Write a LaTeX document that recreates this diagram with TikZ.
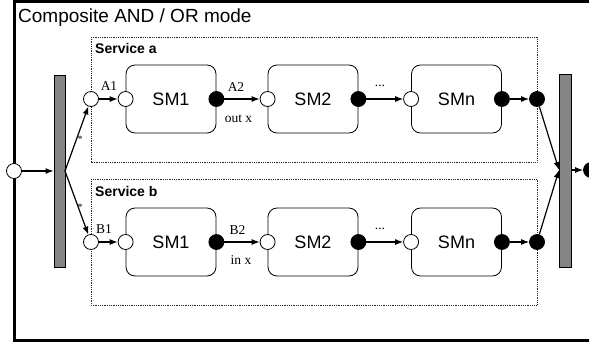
\documentclass[tikz,border=0pt]{standalone}
\usepackage{fontspec}
\setmainfont{Liberation Serif}
\setsansfont{Liberation Sans}
\usetikzlibrary{arrows.meta}
\begin{document}
\begin{tikzpicture}[x=1pt,y=-1pt,
  port/.style={circle, draw, fill=white, minimum size=15pt, inner sep=0pt, line width=0.8pt},
  portf/.style={port, fill=black},
  smbox/.style={draw, rounded corners=9pt, minimum width=90pt, minimum height=68pt, line width=0.8pt, font=\sffamily\fontsize{18}{20}\selectfont},
  svc/.style={draw=black!85, dash pattern=on 0.9pt off 0.9pt, line width=0.8pt},
  conn/.style={-{Latex[length=8pt,width=6pt]}, line width=1.2pt},
  barbox/.style={draw, fill=black!48, line width=0.8pt, inner sep=0pt},
  lbl/.style={font=\fontsize{13.5}{15}\selectfont, inner sep=0pt},
  svclbl/.style={font=\sffamily\bfseries\fontsize{14}{16}\selectfont, inner sep=0pt, anchor=base west}
]
\useasboundingbox (0,0) rectangle (589,346);
\clip (0,0) rectangle (589,346);
% outer frame
\draw[line width=2.5pt] (14.5,1.5) rectangle (620,340.5);
\node[anchor=base west, inner sep=0pt, font=\sffamily\fontsize{19}{22}\selectfont] (title) at (18,22) {Composite AND / OR mode};

% service boxes
\draw[svc] (91,37) rectangle (537,162);
\node[svclbl] (sla) at (95,53) {Service a};
\draw[svc] (91,179) rectangle (537,305);
\node[svclbl] (slb) at (95,196) {Service b};

% bars
\node[barbox, minimum width=11pt, minimum height=192pt] (barL) at (59.5,171) {};
\node[barbox, minimum width=12pt, minimum height=193pt] (barR) at (565,170.5) {};

% SM boxes
\node[smbox] (sm1a) at (171,99) {SM1};
\node[smbox] (sm2a) at (313,99) {SM2};
\node[smbox] (smna) at (456.5,99) {SMn};
\node[smbox] (sm1b) at (171,242) {SM1};
\node[smbox] (sm2b) at (313,242) {SM2};
\node[smbox] (smnb) at (456.5,242) {SMn};

% ports row a
\node[port] (a1) at (91,99) {};
\node[port] (i1a) at (sm1a.west) {};
\node[portf] (o1a) at (sm1a.east) {};
\node[port] (i2a) at (sm2a.west) {};
\node[portf] (o2a) at (sm2a.east) {};
\node[port] (ina) at (smna.west) {};
\node[portf] (ona) at (smna.east) {};
\node[portf] (outa) at (537,99) {};
% ports row b
\node[port] (b1) at (91,242) {};
\node[port] (i1b) at (sm1b.west) {};
\node[portf] (o1b) at (sm1b.east) {};
\node[port] (i2b) at (sm2b.west) {};
\node[portf] (o2b) at (sm2b.east) {};
\node[port] (inb) at (smnb.west) {};
\node[portf] (onb) at (smnb.east) {};
\node[portf] (outb) at (537,242) {};

% start and end
\node[port] (s0) at (14,171) {};
\node[portf] (e0) at (591,170) {};
\coordinate (fork) at (65,171);
\coordinate (join) at (559,170);
\coordinate (barRout) at (571,170);

% connectors
\draw[conn] (s0) -- (barL.west |- s0);
\draw[conn] (fork) -- (a1);
\draw[conn] (fork) -- (b1);
\draw[conn] (a1) -- (i1a);
\draw[conn] (o1a) -- (i2a);
\draw[conn] (o2a) -- (ina);
\draw[conn] (ona) -- (outa);
\draw[conn] (b1) -- (i1b);
\draw[conn] (o1b) -- (i2b);
\draw[conn] (o2b) -- (inb);
\draw[conn] (onb) -- (outb);
\draw[conn] (outa) -- (join);
\draw[conn] (outb) -- (join);
\draw[conn] (barRout) -- (e0);

% labels
\node[lbl] (la1) at (109,86) {A1};
\node[lbl] (la2) at (236,87) {A2};
\node[lbl] (lox) at (238.5,119) {out x};
\node[lbl] (lda) at (380,86) {...};
\node[lbl] (lb1) at (104,229) {B1};
\node[lbl] (lb2) at (237.5,230) {B2};
\node[lbl] (lix) at (241,260) {in x};
\node[lbl] (ldb) at (380,229) {...};
\node[lbl, font=\fontsize{10}{12}\selectfont] (st1) at (80,139) {*};
\node[lbl, font=\fontsize{10}{12}\selectfont] (st2) at (80,207) {*};
\end{tikzpicture}
\end{document}
